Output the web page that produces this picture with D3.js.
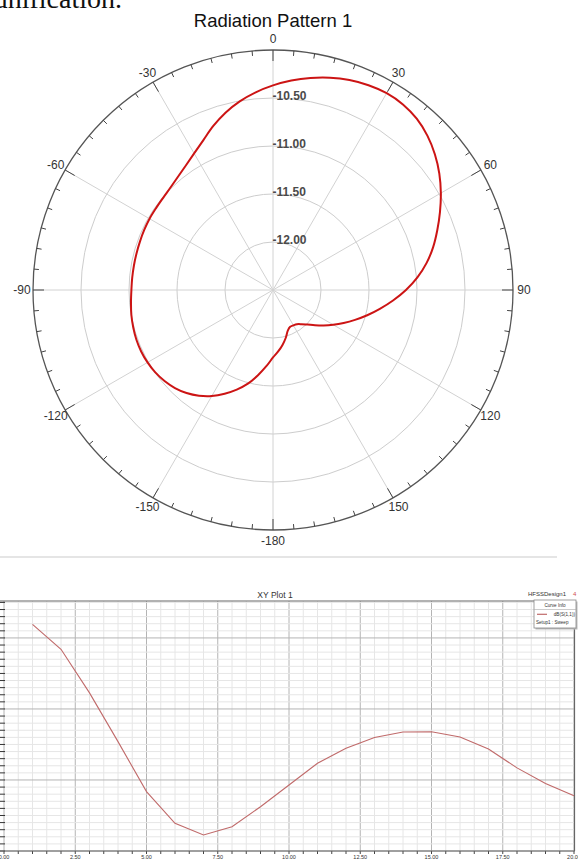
<!DOCTYPE html>
<html>
<head>
<meta charset="utf-8">
<title>Radiation Pattern 1</title>
<script src="https://d3js.org/d3.v7.min.js"></script>
<style type="text/css">
	body{ margin:0; background:white; }
	svg{ display:block; }
	.ring{ fill:none; stroke:#cdcdcd; stroke-width:1; }
	.spoke{ stroke:#d2d2d2; stroke-width:1; }
	.rim{ fill:none; stroke:#555; stroke-width:1.3; }
	.tick{ stroke:#444; stroke-width:1; }
	.angLabel{ font-family:"Liberation Sans", Arial, sans-serif; font-size:12px; fill:#333; }
	.ringLabel{ font-family:"Liberation Sans", Arial, sans-serif; font-size:12px; font-weight:bold; fill:#4a4a4a; }
	.pattern{ fill:none; stroke:#cc1414; stroke-width:2; }
	.minor{ stroke:#e6e6e6; stroke-width:1; }
	.major{ stroke:#b4b4b4; stroke-width:1; }
	.frame{ stroke:#666; stroke-width:1.2; }
	.s11{ fill:none; stroke:#c06a6a; stroke-width:1.1; }
	.small{ font-family:"Liberation Sans", Arial, sans-serif; fill:#333; }
</style>
</head>
<body>
<svg id="chart" width="578" height="861"></svg>
<script>
// radiation pattern (deg, dB)
var patternAngles = [-180,-175,-170,-165,-160,-155,-150,-145,-140,-135,-130,-125,-120,-115,-110,-105,
	-100,-95,-90,-85,-80,-75,-70,-65,-60,-55,-50,-45,-40,-35,-30,-25,-20,-15,-10,-5,
	0,5,10,15,20,25,30,35,40,45,50,55,60,65,70,75,80,85,90,95,100,105,110,115,120,125,
	130,135,140,145,150,155,160,165,170,175];
var patternGain = [-11.797,-11.703,-11.599,-11.490,-11.396,-11.308,-11.225,-11.156,-11.099,-11.056,
	-11.025,-11.003,-10.991,-10.985,-10.986,-10.993,-11.002,-11.015,-11.025,-11.028,-11.029,-11.028,
	-11.025,-11.020,-11.015,-11.013,-11.006,-10.990,-10.960,-10.917,-10.857,-10.780,-10.682,-10.588,
	-10.505,-10.433,
	-10.369,-10.310,-10.257,-10.210,-10.172,-10.146,-10.132,-10.140,-10.171,-10.226,-10.299,-10.385,
	-10.481,-10.581,-10.679,-10.773,-10.875,-10.990,-11.115,-11.245,-11.370,-11.484,-11.591,-11.688,
	-11.776,-11.856,-11.929,-11.990,-12.035,-12.065,-12.075,-12.077,-12.049,-11.985,-11.922,-11.860];
var ringValues = [-12.00, -11.50, -11.00, -10.50];
var angleLabels = [0, 30, 60, 90, 120, 150, -180, -150, -120, -90, -60, -30];

// XY plot 1, dB(S(1,1)) against frequency
var freq = [1,2,3,4,5,6,7,8,9,10,11,12,13,14,15,16,17,18,19,20];
var s11 = [-9.04,-10.80,-13.87,-17.30,-20.82,-23.05,-23.87,-23.29,-21.88,-20.35,
	-18.82,-17.77,-17.01,-16.62,-16.60,-16.97,-17.82,-19.15,-20.25,-21.11];
var xTicks = [0, 2.5, 5, 7.5, 10, 12.5, 15, 17.5, 20];

var svg = d3.select("#chart");
var rad = Math.PI / 180;

// text cut off at the top of the page
svg.append("text")
	.attr("x", 122).attr("y", 7.5)
	.attr("text-anchor", "end")
	.style("font-family", "'Liberation Serif', 'Times New Roman', serif")
	.style("font-size", "28px")
	.attr("fill", "#111")
	.text("unification.");

svg.append("text")
	.attr("x", 273).attr("y", 27)
	.attr("text-anchor", "middle")
	.style("font-family", "'Liberation Sans', Arial, sans-serif")
	.style("font-size", "18.5px")
	.attr("fill", "#111")
	.text("Radiation Pattern 1");

var R = 240;
var rScale = d3.scaleLinear().domain([-12.5, -10]).range([0, R]);
var polar = svg.append("g").attr("transform", "translate(273,290)");

polar.selectAll(".ring").data(ringValues)
	.enter().append("circle")
	.attr("class", "ring")
	.attr("r", function(d){ return rScale(d); });

polar.selectAll(".spoke").data(d3.range(0, 360, 30))
	.enter().append("line")
	.attr("class", "spoke")
	.attr("x2", function(d){ return R * Math.sin(d * rad); })
	.attr("y2", function(d){ return -R * Math.cos(d * rad); });

polar.append("circle").attr("class", "rim").attr("r", R);

polar.selectAll(".tick").data(d3.range(0, 360, 5))
	.enter().append("line")
	.attr("class", "tick")
	.attr("x1", function(d){ return R * Math.sin(d * rad); })
	.attr("y1", function(d){ return -R * Math.cos(d * rad); })
	.attr("x2", function(d){ var r = d % 30 == 0 ? R - 11 : R - 5; return r * Math.sin(d * rad); })
	.attr("y2", function(d){ var r = d % 30 == 0 ? R - 11 : R - 5; return -r * Math.cos(d * rad); });

polar.selectAll(".angLabel").data(angleLabels)
	.enter().append("text")
	.attr("class", "angLabel")
	.attr("text-anchor", "middle")
	.attr("dominant-baseline", "central")
	.attr("x", function(d){ return 251 * Math.sin(d * rad); })
	.attr("y", function(d){ return -251 * Math.cos(d * rad); })
	.text(function(d){ return d; });

polar.selectAll(".ringLabel").data(ringValues)
	.enter().append("text")
	.attr("class", "ringLabel")
	.attr("x", -0.5)
	.attr("y", function(d){ return -rScale(d) + 1.5; })
	.text(function(d){ return d.toFixed(2); });

var pattern = patternAngles.map(function(a, i){ return {a: a, v: patternGain[i]}; });
var radial = d3.lineRadial()
	.angle(function(d){ return d.a * rad; })
	.radius(function(d){ return rScale(d.v); })
	.curve(d3.curveCatmullRomClosed);
polar.append("path").datum(pattern).attr("class", "pattern").attr("d", radial);

// separator
svg.append("line")
	.attr("x1", 0).attr("x2", 557).attr("y1", 557).attr("y2", 557)
	.attr("stroke", "#dcdcdc").attr("stroke-width", 1.5);

// XY plot
var x = d3.scaleLinear().domain([0, 20]).range([4, 574]);
var y = d3.scaleLinear().domain([-25, -7.4]).range([851, 601]);
var plot = svg.append("g");

var xGrid = d3.range(0, 20.001, 0.5);
var yGrid = d3.range(-25, -7.4, 0.5);

plot.selectAll(".vgrid").data(xGrid)
	.enter().append("line")
	.attr("class", function(d){ return d % 2.5 == 0 ? "major" : "minor"; })
	.attr("x1", function(d){ return x(d); }).attr("x2", function(d){ return x(d); })
	.attr("y1", 601).attr("y2", 851);

plot.selectAll(".hgrid").data(yGrid)
	.enter().append("line")
	.attr("class", function(d){ return d % 5 == 0 ? "major" : "minor"; })
	.attr("x1", 4).attr("x2", 574)
	.attr("y1", function(d){ return y(d); }).attr("y2", function(d){ return y(d); });

plot.selectAll(".ytick").data(yGrid)
	.enter().append("line")
	.attr("stroke", "#333")
	.attr("x1", 0).attr("x2", 5)
	.attr("y1", function(d){ return y(d); }).attr("y2", function(d){ return y(d); });

plot.selectAll(".xtick").data(xGrid)
	.enter().append("line")
	.attr("stroke", "#444")
	.attr("x1", function(d){ return x(d); }).attr("x2", function(d){ return x(d); })
	.attr("y1", 851).attr("y2", 854);

plot.append("line").attr("class", "frame").attr("x1", 0).attr("x2", 575).attr("y1", 601).attr("y2", 601);
plot.append("line").attr("class", "frame").attr("x1", 574.5).attr("x2", 574.5).attr("y1", 601).attr("y2", 851);
plot.append("line").attr("class", "frame").attr("x1", 0).attr("x2", 575).attr("y1", 851).attr("y2", 851);

plot.selectAll(".xlab").data(xTicks)
	.enter().append("text")
	.attr("class", "small")
	.attr("text-anchor", "middle")
	.style("font-size", "5.5px")
	.attr("x", function(d){ return x(d); })
	.attr("y", 859)
	.text(function(d){ return d.toFixed(2); });

var line = d3.line()
	.x(function(d, i){ return x(freq[i]); })
	.y(function(d){ return y(d); });
plot.append("path").datum(s11).attr("class", "s11").attr("d", line);

plot.append("text")
	.attr("class", "small")
	.attr("x", 275).attr("y", 598)
	.attr("text-anchor", "middle")
	.style("font-size", "8.5px")
	.text("XY Plot 1");

plot.append("text")
	.attr("class", "small")
	.attr("x", 547).attr("y", 596)
	.attr("text-anchor", "middle")
	.style("font-size", "6px")
	.text("HFSSDesign1");

plot.append("text")
	.attr("x", 573).attr("y", 596)
	.style("font-family", "'Liberation Sans', Arial, sans-serif")
	.style("font-size", "6px")
	.attr("fill", "#d05050")
	.text("4");

// curve info box
var legend = plot.append("g");
legend.append("rect")
	.attr("x", 535.5).attr("y", 601.5).attr("width", 42).attr("height", 28)
	.attr("fill", "#bbb");
legend.append("rect")
	.attr("x", 534).attr("y", 600).attr("width", 42).attr("height", 28)
	.attr("fill", "white").attr("stroke", "#888").attr("stroke-width", 0.8);
legend.append("line")
	.attr("x1", 534).attr("x2", 576).attr("y1", 609.5).attr("y2", 609.5)
	.attr("stroke", "#aaa").attr("stroke-width", 0.6);
legend.append("text")
	.attr("class", "small")
	.attr("x", 555).attr("y", 607)
	.attr("text-anchor", "middle")
	.style("font-size", "4.6px")
	.text("Curve Info");
legend.append("line")
	.attr("x1", 537).attr("x2", 547).attr("y1", 614.3).attr("y2", 614.3)
	.attr("stroke", "#c06a6a").attr("stroke-width", 1.2);
legend.append("text")
	.attr("class", "small")
	.attr("x", 575).attr("y", 616)
	.attr("text-anchor", "end")
	.style("font-size", "4.6px")
	.text("dB(S(1,1))");
legend.append("text")
	.attr("class", "small")
	.attr("x", 536).attr("y", 623.5)
	.style("font-size", "4.6px")
	.text("Setup1 : Sweep");
</script>
</body>
</html>
